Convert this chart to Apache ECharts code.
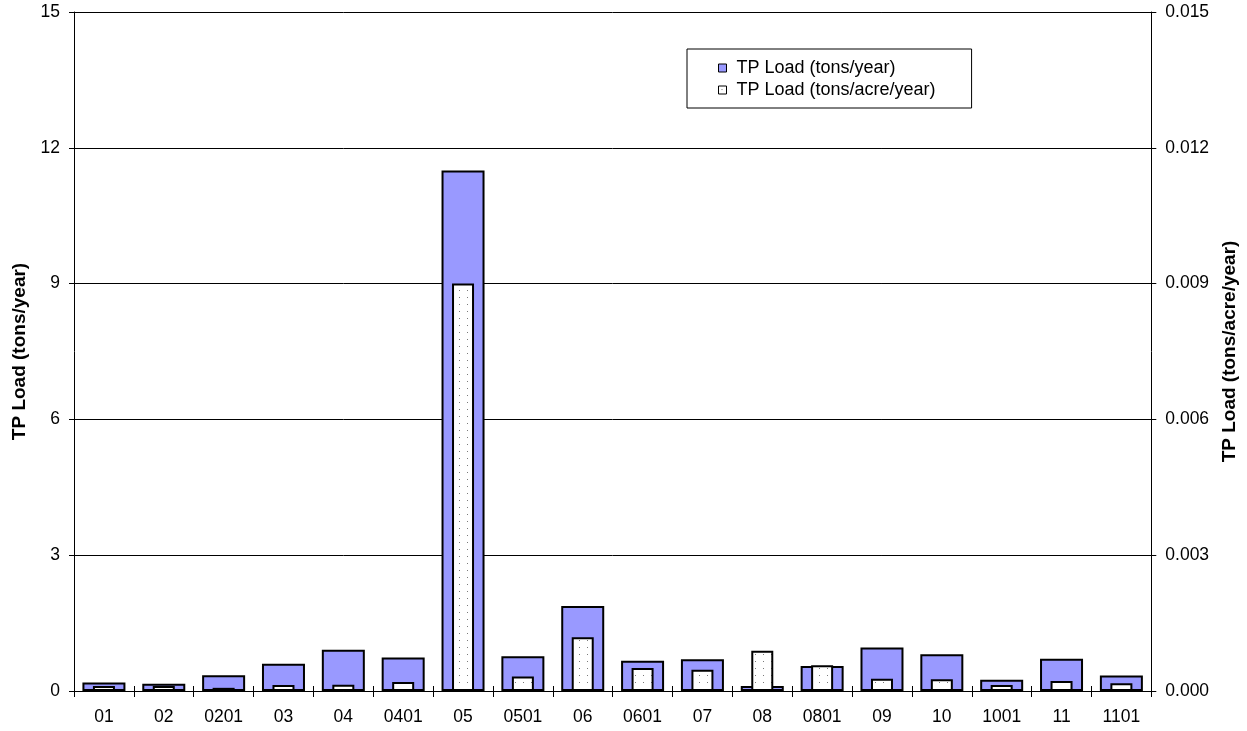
<!DOCTYPE html>
<html>
<head>
<meta charset="utf-8">
<script src="https://cdn.jsdelivr.net/npm/echarts@6/dist/echarts.min.js"></script>
<style>
  html, body { margin: 0; padding: 0; background: #fff; }
  #chart { width: 1247px; height: 731px; }
</style>
</head>
<body>
<div id="chart"></div>
<script>
// Subwatershed identifiers
const categories = ['01', '02', '0201', '03', '04', '0401', '05', '0501', '06', '0601',
                    '07', '08', '0801', '09', '10', '1001', '11', '1101'];

// Total phosphorus load, tons per year (left axis)
const loadTonsYear = [0.19, 0.16, 0.35, 0.60, 0.91, 0.74, 11.5, 0.77, 1.88, 0.67,
                      0.70, 0.11, 0.55, 0.96, 0.81, 0.25, 0.71, 0.34];

// Total phosphorus load per acre, tons per acre per year (right axis)
const loadTonsAcreYear = [0.00011, 0.00011, 0.00007, 0.00013, 0.00014, 0.00020, 0.0090, 0.00032, 0.00119, 0.00051,
                          0.00047, 0.00089, 0.00057, 0.00027, 0.00026, 0.00013, 0.00022, 0.00017];

const leftTicks = { min: 0, max: 15, interval: 3 };
const rightTicks = { min: 0, max: 0.015, interval: 0.003 };

const FONT = "'Liberation Sans', Arial, sans-serif";

// Stippled fill for the per-acre bars
function dotPattern() {
  const c = document.createElement('canvas');
  c.width = 8; c.height = 7;
  const g = c.getContext('2d');
  g.fillStyle = '#ffffff';
  g.fillRect(0, 0, 8, 7);
  g.fillStyle = '#7a7a7a';
  g.fillRect(3, 3, 1, 1);
  return c;
}

const chart = echarts.init(document.getElementById('chart'), null, { renderer: 'canvas' });

chart.setOption({
  animation: false,
  backgroundColor: '#fff',
  textStyle: { fontFamily: FONT, fontSize: 17.5, color: '#000' },
  grid: { left: 74, right: 94, top: 12, bottom: 40, containLabel: false },
  legend: {
    orient: 'vertical',
    left: 687,
    top: 49,
    padding: [10, 36, 9, 31],
    itemGap: 4,
    itemWidth: 8,
    itemHeight: 8,
    borderColor: '#000',
    borderWidth: 1,
    backgroundColor: '#fff',
    textStyle: { fontFamily: FONT, fontSize: 18, color: '#000', padding: [0, 0, 0, 5] },
    data: [
      { name: 'TP Load (tons/year)', icon: 'rect', itemStyle: { borderColor: '#000', borderWidth: 1 } },
      { name: 'TP Load (tons/acre/year)', icon: 'rect', itemStyle: { borderColor: '#000', borderWidth: 1 } }
    ]
  },
  xAxis: [
    {
      type: 'category',
      data: categories,
      position: 'bottom',
      axisLine: { show: true, lineStyle: { color: '#000', width: 1 } },
      axisTick: { show: true, inside: false, length: 6, lineStyle: { color: '#000' } },
      axisLabel: { fontFamily: FONT, fontSize: 17.5, color: '#000', margin: 17, interval: 0 },
      splitLine: { show: false }
    },
    {
      type: 'category',
      data: categories,
      position: 'bottom',
      axisLine: { show: false },
      axisTick: { show: true, inside: true, length: 5, lineStyle: { color: '#000' } },
      axisLabel: { show: false },
      splitLine: { show: false }
    }
  ],
  yAxis: [
    {
      type: 'value',
      position: 'left',
      min: leftTicks.min,
      max: leftTicks.max,
      interval: leftTicks.interval,
      name: 'TP Load (tons/year)',
      nameLocation: 'middle',
      nameRotate: 90,
      nameGap: 44,
      nameTextStyle: { fontFamily: FONT, fontSize: 19, fontWeight: 'bold', color: '#000' },
      axisLine: { show: true, lineStyle: { color: '#000', width: 1 } },
      axisTick: { show: true, inside: false, length: 5, lineStyle: { color: '#000' } },
      axisLabel: { fontFamily: FONT, fontSize: 17.5, color: '#000', margin: 14 },
      splitLine: { show: true, lineStyle: { color: '#000', width: 1 } }
    },
    {
      type: 'value',
      position: 'right',
      min: rightTicks.min,
      max: rightTicks.max,
      interval: rightTicks.interval,
      name: 'TP Load (tons/acre/year)',
      nameLocation: 'middle',
      nameRotate: 90,
      nameGap: 64,
      nameTextStyle: { fontFamily: FONT, fontSize: 19, fontWeight: 'bold', color: '#000' },
      axisLine: { show: true, lineStyle: { color: '#000', width: 1 } },
      axisTick: { show: true, inside: false, length: 5, lineStyle: { color: '#000' } },
      axisLabel: { fontFamily: FONT, fontSize: 17.5, color: '#000', margin: 14,
                   formatter: v => v.toFixed(3) },
      splitLine: { show: false }
    }
  ],
  series: [
    {
      name: 'TP Load (tons/year)',
      type: 'bar',
      xAxisIndex: 0,
      yAxisIndex: 0,
      barWidth: 43,
      data: loadTonsYear,
      itemStyle: { color: '#9999ff', borderColor: '#000', borderWidth: 2 },
      z: 2
    },
    {
      name: 'TP Load (tons/acre/year)',
      type: 'bar',
      xAxisIndex: 1,
      yAxisIndex: 1,
      barWidth: 22,
      data: loadTonsAcreYear,
      itemStyle: { color: { image: dotPattern(), repeat: 'repeat' }, borderColor: '#000', borderWidth: 2 },
      z: 3
    }
  ]
});
</script>
</body>
</html>
